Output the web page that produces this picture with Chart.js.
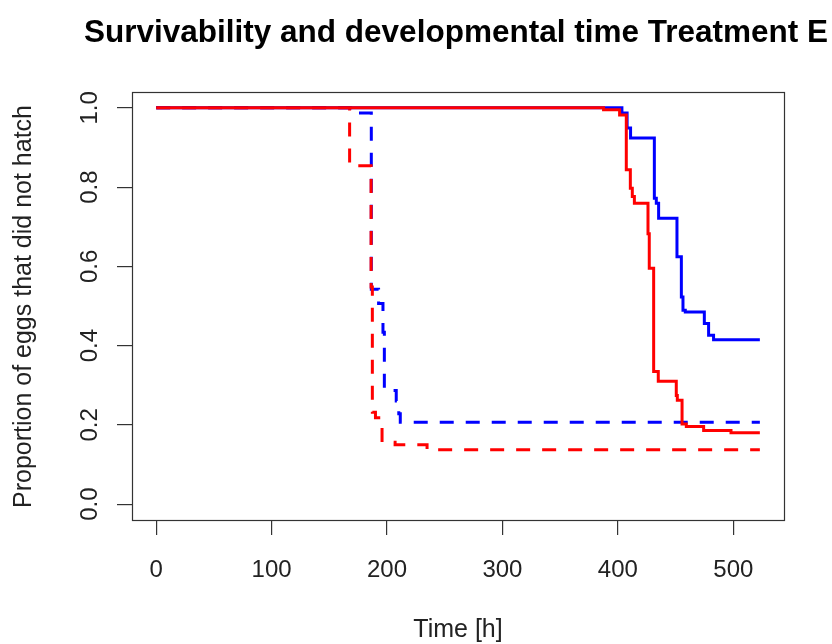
<!DOCTYPE html>
<html>
<head>
<meta charset="utf-8">
<script src="https://cdn.jsdelivr.net/npm/chart.js@4.4.1/dist/chart.umd.min.js"></script>
<style>
  html, body { margin: 0; padding: 0; background: #ffffff; }
  #wrap { width: 832px; height: 644px; }
</style>
</head>
<body>
<div id="wrap"><canvas id="c" width="832" height="644"></canvas></div>
<script>
// ---- Data ----
const titleText = "Survivability and developmental time Treatment E";
const xAxisTitle = "Time [h]";
const yAxisTitle = "Proportion of eggs that did not hatch";

const xTicks = [0, 100, 200, 300, 400, 500];
const yTicks = [0, 0.2, 0.4, 0.6, 0.8, 1.0];
const yTickLabels = ["0.0", "0.2", "0.4", "0.6", "0.8", "1.0"];

// Blue solid curve
const blueSolidTime = [0, 403.5, 408, 411, 431.6, 433.3, 435.3, 451.2, 455, 456.4, 458.4, 474.9, 478.6, 482.9, 523];
const blueSolidSurv = [1.0, 0.987, 0.949, 0.924, 0.772, 0.759, 0.7215, 0.624, 0.523, 0.489, 0.485, 0.456, 0.426, 0.415, 0.415];

// Red solid curve
const redSolidTime = [0, 387.6, 401.5, 407.3, 410.8, 412.5, 414.3, 426.1, 427.2, 431, 435, 450.6, 451.5, 455.6, 459.3, 474.3, 498, 523];
const redSolidSurv = [1.0, 0.995, 0.982, 0.844, 0.797, 0.776, 0.759, 0.682, 0.595, 0.335, 0.31, 0.274, 0.262, 0.2025, 0.196, 0.186, 0.18, 0.18];

// Blue dashed curve
const blueDashTime = [0, 172, 186.4, 192.7, 196.5, 197.7, 208, 210.2, 211.5, 523];
const blueDashSurv = [1.0, 0.987, 0.542, 0.506, 0.434, 0.287, 0.26, 0.228, 0.2066, 0.2066];

// Red dashed curve
const redDashTime = [0, 167.6, 186.2, 187.3, 190, 195.7, 207, 234.7, 523];
const redDashSurv = [1.0, 0.854, 0.548, 0.232, 0.218, 0.156, 0.15, 0.137, 0.137];

const xRange = [-20.92, 543.92];
const yRange = [-0.04, 1.04];

// ---- Chart ----
const FONT = "'Liberation Sans', Arial, sans-serif";

function series(time, surv, color, dashed) {
  return {
    data: time.map((t, i) => ({ x: t, y: surv[i] })),
    borderColor: color,
    backgroundColor: color,
    borderWidth: 3,
    borderDash: dashed ? [14, 12] : [],
    borderCapStyle: 'butt',
    borderJoinStyle: 'miter',
    stepped: 'before',
    pointRadius: 0,
    fill: false,
    tension: 0
  };
}

const decor = {
  id: 'decor',
  afterDraw(chart) {
    const ctx = chart.ctx;
    const a = chart.chartArea;
    const xs = chart.scales.x, ys = chart.scales.y;
    ctx.save();
    // box
    ctx.strokeStyle = '#333';
    ctx.lineWidth = 1.2;
    ctx.strokeRect(Math.round(a.left) + 0.5, Math.round(a.top) + 0.5,
                   Math.round(a.right - a.left), Math.round(a.bottom - a.top));
    // title
    ctx.fillStyle = '#000';
    ctx.font = "bold 31.5px " + FONT;
    ctx.textAlign = 'center';
    ctx.textBaseline = 'alphabetic';
    ctx.fillText(titleText, 456, 42);
    // x tick labels
    ctx.fillStyle = '#222';
    ctx.font = "24px " + FONT;
    xTicks.forEach(v => ctx.fillText(String(v), xs.getPixelForValue(v), 576.5));
    // x axis title
    ctx.font = "25px " + FONT;
    ctx.fillText(xAxisTitle, (a.left + a.right) / 2, 637);
    // y tick labels (rotated)
    ctx.font = "24px " + FONT;
    yTicks.forEach((v, i) => {
      ctx.save();
      ctx.translate(97, ys.getPixelForValue(v));
      ctx.rotate(-Math.PI / 2);
      ctx.fillText(yTickLabels[i], 0, 0);
      ctx.restore();
    });
    // y axis title
    ctx.font = "25px " + FONT;
    ctx.save();
    ctx.translate(31, (a.top + a.bottom) / 2 + 0.5);
    ctx.rotate(-Math.PI / 2);
    ctx.fillText(yAxisTitle, 0, 0);
    ctx.restore();
    ctx.restore();
  }
};

new Chart(document.getElementById('c'), {
  type: 'line',
  data: {
    datasets: [
      series(redSolidTime, redSolidSurv, '#ff0000', false),
      series(blueSolidTime, blueSolidSurv, '#0000ff', false),
      series(redDashTime, redDashSurv, '#ff0000', true),
      series(blueDashTime, blueDashSurv, '#0000ff', true)
    ]
  },
  options: {
    responsive: false,
    animation: false,
    devicePixelRatio: 1,
    layout: { padding: { top: 92, right: 48, left: 0, bottom: 0 } },
    plugins: { legend: { display: false }, title: { display: false }, tooltip: { enabled: false } },
    scales: {
      x: {
        type: 'linear',
        min: xRange[0], max: xRange[1],
        afterBuildTicks: s => { s.ticks = xTicks.map(v => ({ value: v })); },
        afterFit: s => { s.height = 124; },
        ticks: { display: false },
        grid: { drawOnChartArea: false, drawTicks: true, tickLength: 15, color: '#333', lineWidth: 1.2 },
        border: { display: false }
      },
      y: {
        type: 'linear',
        min: yRange[0], max: yRange[1],
        afterBuildTicks: s => { s.ticks = yTicks.map(v => ({ value: v })); },
        afterFit: s => { s.width = 132; },
        ticks: { display: false },
        grid: { drawOnChartArea: false, drawTicks: true, tickLength: 15, color: '#333', lineWidth: 1.2 },
        border: { display: false }
      }
    }
  },
  plugins: [decor]
});
</script>
</body>
</html>
